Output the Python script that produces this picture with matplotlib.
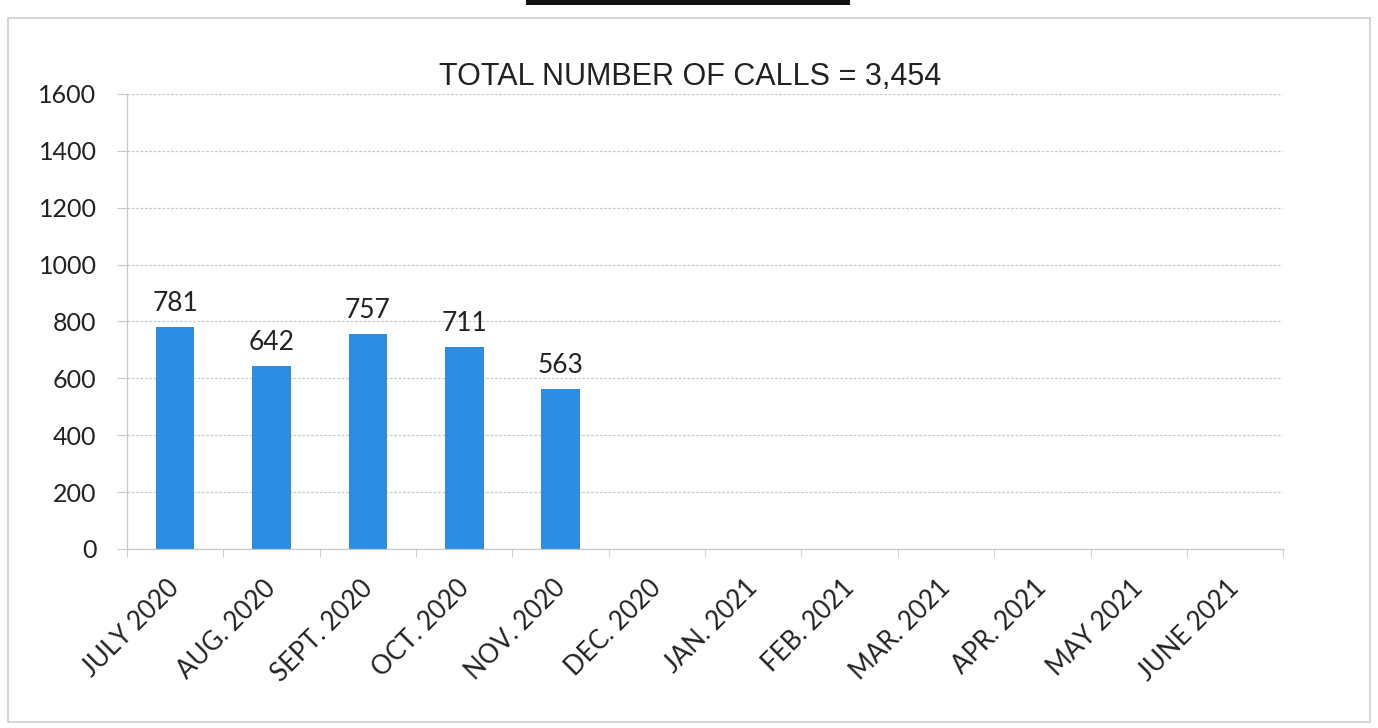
import matplotlib.pyplot as plt
import matplotlib.transforms as mtransforms
from matplotlib.patches import Rectangle

months = ["JULY 2020", "AUG. 2020", "SEPT. 2020", "OCT. 2020", "NOV. 2020", "DEC. 2020",
          "JAN. 2021", "FEB. 2021", "MAR. 2021", "APR. 2021", "MAY 2021", "JUNE 2021"]
calls = [781, 642, 757, 711, 563]
total_calls = 3454

bar_color = "#2D8DE2"
grid_color = "#c8c8c8"
text_color = "#222222"

fig = plt.figure(figsize=(13.78, 7.28), dpi=100)
ax = fig.add_axes([0.0922, 0.2459, 0.839, 0.6250])

x = list(range(len(months)))
bars = ax.bar(x[:len(calls)], calls, width=0.4, color=bar_color, zorder=2)
for rect, v in zip(bars, calls):
    ax.annotate(f"{v}", (rect.get_x() + rect.get_width() / 2, v), xytext=(0, 8),
                textcoords="offset points", ha="center", va="bottom",
                fontsize=19, family="Lato", color=text_color)

ax.set_xlim(-0.5, len(months) - 0.5)
ax.set_ylim(0, 1600)
ax.set_yticks(range(0, 1601, 200))
ax.yaxis.grid(True, linestyle=(0, (2, 1.5)), color=grid_color, linewidth=0.9, zorder=0)

# category labels centred, tick marks on the boundaries
ax.set_xticks(x)
ax.set_xticklabels(months, rotation=45, ha="right", rotation_mode="anchor",
                   fontsize=18.5, family="Lato", color=text_color)
ax.tick_params(axis="x", which="major", length=0, pad=19)
shift = mtransforms.ScaledTranslation(-6 / 72, 0, fig.dpi_scale_trans)
for lab in ax.get_xticklabels():
    lab.set_transform(lab.get_transform() + shift)
ax.set_xticks([i - 0.5 for i in range(len(months) + 1)], minor=True)
ax.tick_params(axis="x", which="minor", length=6, color=grid_color, direction="out")
ax.tick_params(axis="y", length=7, color=grid_color, pad=15, labelsize=18, labelcolor=text_color)
for lab in ax.get_yticklabels():
    lab.set_family("Lato")

for side in ["top", "right"]:
    ax.spines[side].set_visible(False)
for side in ["left", "bottom"]:
    ax.spines[side].set_color(grid_color)
    ax.spines[side].set_linewidth(0.9)

fig.text(0.501, 0.894, f"TOTAL NUMBER OF CALLS = {total_calls:,}", ha="center", va="center",
         fontsize=22, family="Liberation Sans", color=text_color)

# outer chart frame and the cut-off underline of the heading above it
fig.add_artist(Rectangle((0.006, 0.008), 0.988, 0.967, transform=fig.transFigure,
                         fill=False, edgecolor="#cfcfcf", linewidth=1.2))
fig.add_artist(Rectangle((0.382, 0.993), 0.235, 0.007, transform=fig.transFigure,
                         facecolor="#111111", edgecolor="none"))

fig.savefig("out.png", dpi=100, facecolor="white")
